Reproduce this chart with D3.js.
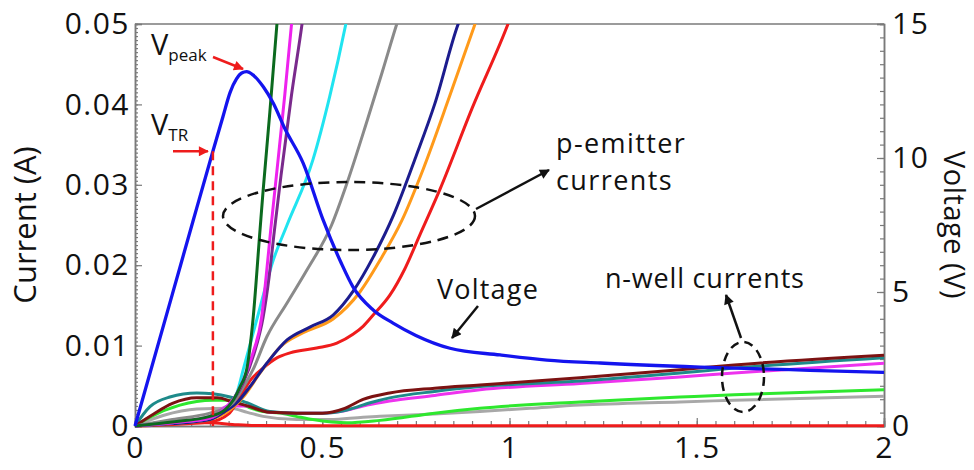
<!DOCTYPE html>
<html>
<head>
<meta charset="utf-8">
<script src="https://cdn.jsdelivr.net/npm/d3@7"></script>
<style>
  html, body { margin: 0; padding: 0; background: #ffffff; }
  svg { display: block; }
  text { font-family: "Open Sans", "DejaVu Sans", sans-serif; fill: #111; }
</style>
</head>
<body>
<svg id="chart" width="974" height="470"></svg>
<script>
// ---- data: time (ns) vs current (A) and voltage (V) ----
const xTicks = [0, 0.5, 1, 1.5, 2];
const currentTicks = [0, 0.01, 0.02, 0.03, 0.04, 0.05];
const voltageTicks = [0, 5, 10, 15];

// anode voltage
const voltageT = [0, 0.1, 0.155, 0.208, 0.235, 0.254, 0.271, 0.285, 0.298, 0.315, 0.343, 0.369, 0.40, 0.449, 0.502, 0.55, 0.582, 0.636, 0.689, 0.75, 0.841, 0.975, 1.10, 1.242, 1.509, 1.75, 2.0];
const voltageV = [0, 4.93, 7.65, 10.25, 11.55, 12.45, 12.95, 13.17, 13.22, 13.1, 12.65, 12.05, 11.1, 9.81, 7.7, 6.1, 5.19, 4.33, 3.84, 3.38, 2.9, 2.65, 2.46, 2.35, 2.2, 2.1, 2.0];

// triggering point
const vTR = { t: 0.208, v: 10.25 };

// p-emitter currents  [t, I]
const pDarkGreen = [[0,0],[0.1,0.0005],[0.2,0.0012],[0.24,0.002],[0.262,0.0032],[0.28,0.0048],[0.299,0.0072],[0.315,0.0132],[0.334,0.0245],[0.342,0.0292],[0.36,0.039],[0.379,0.05],[0.39,0.056]];
const pMagenta   = [[0,0],[0.1,0.0004],[0.2,0.001],[0.24,0.0022],[0.265,0.0035],[0.29,0.0058],[0.315,0.0091],[0.338,0.0135],[0.35,0.0185],[0.362,0.0242],[0.38,0.0322],[0.40,0.0412],[0.418,0.05],[0.43,0.055]];
const pPurple    = [[0,0],[0.1,0.0004],[0.2,0.001],[0.24,0.0021],[0.265,0.0034],[0.29,0.0055],[0.318,0.009],[0.342,0.0135],[0.358,0.0185],[0.372,0.0242],[0.39,0.0312],[0.418,0.0412],[0.446,0.05],[0.46,0.055]];
const pCyan      = [[0,0],[0.1,0.0004],[0.2,0.001],[0.24,0.0022],[0.272,0.0041],[0.289,0.007],[0.325,0.0132],[0.369,0.0206],[0.406,0.025],[0.475,0.0331],[0.52,0.041],[0.563,0.05],[0.58,0.054]];
const pGray      = [[0,0],[0.1,0.0008],[0.2,0.0016],[0.24,0.0022],[0.26,0.0028],[0.28,0.0041],[0.315,0.007],[0.352,0.0111],[0.406,0.0153],[0.459,0.0194],[0.525,0.025],[0.566,0.0302],[0.62,0.038],[0.66,0.044],[0.699,0.05],[0.72,0.053]];
const pNavy      = [[0,0],[0.1,0.0003],[0.2,0.0008],[0.24,0.0018],[0.272,0.0029],[0.307,0.0049],[0.352,0.0078],[0.406,0.0107],[0.467,0.0123],[0.529,0.0138],[0.583,0.0168],[0.636,0.021],[0.69,0.0262],[0.75,0.0335],[0.80,0.040],[0.863,0.05],[0.88,0.052]];
const pOrange    = [[0,0],[0.1,0.0003],[0.2,0.0008],[0.254,0.002],[0.289,0.0036],[0.334,0.0066],[0.387,0.0098],[0.449,0.0116],[0.529,0.0133],[0.601,0.0167],[0.654,0.0206],[0.713,0.0256],[0.77,0.032],[0.84,0.041],[0.908,0.05],[0.93,0.053]];
const pRed       = [[0,0],[0.1,0.0002],[0.2,0.0005],[0.25,0.0015],[0.28,0.0036],[0.31,0.0058],[0.342,0.0072],[0.38,0.0085],[0.414,0.0091],[0.485,0.0097],[0.539,0.0103],[0.582,0.0114],[0.609,0.0124],[0.636,0.0138],[0.681,0.0163],[0.72,0.0195],[0.761,0.0238],[0.814,0.0294],[0.90,0.0395],[0.996,0.05],[1.02,0.053]];

// n-well currents  [t, I]
const nRed     = [[0,0],[0.05,0.0003],[0.12,0.0004],[0.2,0.0004],[0.26,0.0002],[0.32,0.00005],[0.5,0.00003],[2.0,0.00003]];
const nGray    = [[0,0],[0.075,0.0013],[0.165,0.0021],[0.254,0.0022],[0.3,0.0017],[0.342,0.0012],[0.432,0.0008],[0.521,0.0008],[0.609,0.0011],[0.654,0.0012],[0.8,0.0015],[0.921,0.0018],[1.055,0.0022],[1.188,0.0026],[1.455,0.003],[1.6,0.0032],[2.0,0.0037]];
const nGreen   = [[0,0],[0.04,0.0011],[0.12,0.0026],[0.208,0.0032],[0.254,0.0032],[0.299,0.0024],[0.342,0.0018],[0.387,0.0016],[0.43,0.0012],[0.475,0.0008],[0.566,0.0004],[0.654,0.0007],[0.8,0.0016],[0.921,0.0022],[1.188,0.003],[1.455,0.0036],[1.6,0.0039],[2.0,0.0045]];
const nMagenta = [[0,0],[0.1,0.0005],[0.2,0.0012],[0.25,0.0025],[0.3,0.0025],[0.36,0.0017],[0.43,0.0016],[0.5,0.0016],[0.56,0.0019],[0.62,0.0026],[0.68,0.0031],[0.8,0.0038],[0.921,0.0045],[1.188,0.0053],[1.455,0.0061],[1.6,0.0066],[2.0,0.0078]];
const nTeal    = [[0,0],[0.04,0.0024],[0.093,0.0036],[0.165,0.0041],[0.208,0.004],[0.254,0.0036],[0.299,0.0029],[0.36,0.0018],[0.432,0.0016],[0.503,0.0016],[0.566,0.002],[0.628,0.0029],[0.68,0.0035],[0.8,0.0043],[0.921,0.0049],[1.188,0.0056],[1.455,0.0066],[1.6,0.0072],[2.0,0.0085]];
const nMaroon  = [[0,0],[0.05,0.0015],[0.1,0.0028],[0.165,0.0035],[0.22,0.0035],[0.26,0.003],[0.3,0.0025],[0.36,0.0017],[0.43,0.0016],[0.5,0.0016],[0.56,0.0022],[0.609,0.0033],[0.68,0.0041],[0.8,0.0047],[0.921,0.0051],[1.188,0.006],[1.455,0.007],[1.6,0.0076],[2.0,0.0088]];

const nWellSeries = [
  { data: nRed, color: "#ee1c1c" },
  { data: nGray, color: "#a8a8a8" },
  { data: nGreen, color: "#2ee82e" },
  { data: nMagenta, color: "#ee33ee" },
  { data: nTeal, color: "#1e8a8a" },
  { data: nMaroon, color: "#7c1212" }
];
const pEmitterSeries = [
  { data: pRed, color: "#ef1c1c" },
  { data: pOrange, color: "#ff9a1a" },
  { data: pNavy, color: "#1c1c8e" },
  { data: pGray, color: "#8a8a8a" },
  { data: pCyan, color: "#20e4f0" },
  { data: pPurple, color: "#7a2a8c" },
  { data: pMagenta, color: "#ee22ee" },
  { data: pDarkGreen, color: "#0b6a1e" }
];

// ---- layout ----
const svg = d3.select("#chart");
const x = d3.scaleLinear().domain([0, 2]).range([135, 884]);
const yI = d3.scaleLinear().domain([0, 0.05]).range([426, 24]);
const yV = d3.scaleLinear().domain([0, 15]).range([426, 24]);
const axisColor = "#7a7a7a";
const fontTick = 30;

const defs = svg.append("defs");
defs.append("clipPath").attr("id", "plotClip")
  .append("rect").attr("x", x(0) - 2).attr("y", yI(0.05)).attr("width", x(2) - x(0) + 2).attr("height", yI(0) - yI(0.05) + 4);

function marker(id, color, w, h) {
  defs.append("marker").attr("id", id)
    .attr("viewBox", "0 0 10 10").attr("refX", 9).attr("refY", 5)
    .attr("markerUnits", "userSpaceOnUse")
    .attr("markerWidth", w).attr("markerHeight", h)
    .attr("orient", "auto")
    .append("path").attr("d", "M0,0 L10,5 L0,10 Z").attr("fill", color);
}
marker("headBlack", "#111", 12, 10);
marker("headRed", "#ee1c1c", 12, 10);

// ---- axes ----
function styleAxis(g) {
  g.select(".domain").attr("stroke", axisColor).attr("stroke-width", 1.5);
  g.selectAll(".tick line").attr("stroke", axisColor).attr("stroke-width", 1.2);
  g.selectAll("text").attr("font-size", fontTick).attr("fill", "#111")
    .attr("letter-spacing", 1.5)
    .attr("font-family", '"Open Sans", sans-serif');
}

// minor ticks
svg.append("g").attr("transform", `translate(0,${yI(0)})`)
  .call(d3.axisBottom(x).tickValues(d3.range(0, 2.0001, 0.05)).tickSize(-5).tickFormat(""))
  .call(styleAxis);
svg.append("g").attr("transform", `translate(${x(0)},0)`)
  .call(d3.axisLeft(yI).tickValues(d3.range(0, 0.05001, 0.0005)).tickSize(-3).tickFormat(""))
  .call(styleAxis);
svg.append("g").attr("transform", `translate(${x(2)},0)`)
  .call(d3.axisRight(yV).tickValues(d3.range(0, 15.001, 0.5)).tickSize(-4).tickFormat(""))
  .call(styleAxis);

// major ticks with labels
svg.append("g").attr("transform", `translate(0,${yI(0)})`)
  .call(d3.axisBottom(x).tickValues(xTicks).tickSize(-8).tickPadding(11).tickFormat(d3.format("")))
  .call(styleAxis);
svg.append("g").attr("transform", `translate(${x(0)},0)`)
  .call(d3.axisLeft(yI).tickValues(currentTicks).tickSize(-7).tickPadding(5).tickFormat(d => d === 0 ? "0" : d3.format(".2f")(d)))
  .call(styleAxis);
svg.append("g").attr("transform", `translate(${x(2)},0)`)
  .call(d3.axisRight(yV).tickValues(voltageTicks).tickSize(-7).tickPadding(8).tickFormat(d3.format("")))
  .call(styleAxis);

// top frame
svg.append("line").attr("x1", x(0)).attr("x2", x(2)).attr("y1", yI(0.05)).attr("y2", yI(0.05))
  .attr("stroke", axisColor).attr("stroke-width", 1.5);

// axis titles
svg.append("text").attr("transform", `translate(36,${(yI(0) + yI(0.05)) / 2}) rotate(-90)`)
  .attr("text-anchor", "middle").attr("font-size", 31).text("Current (A)");
svg.append("text").attr("transform", `translate(944,${(yI(0) + yI(0.05)) / 2}) rotate(90)`)
  .attr("text-anchor", "middle").attr("font-size", 29).attr("letter-spacing", 0.5).text("Voltage (V)");

// ---- curves ----
const plot = svg.append("g").attr("clip-path", "url(#plotClip)");
const lineI = d3.line().x(d => x(d[0])).y(d => yI(d[1])).curve(d3.curveMonotoneX);
const lineV = d3.line().x((d, i) => x(voltageT[i])).y(d => yV(d)).curve(d3.curveMonotoneX);

plot.selectAll("path.nwell").data(nWellSeries).join("path").attr("class", "nwell")
  .attr("d", s => lineI(s.data)).attr("fill", "none").attr("stroke", s => s.color)
  .attr("stroke-width", 3).attr("stroke-linejoin", "round");
plot.selectAll("path.pemit").data(pEmitterSeries).join("path").attr("class", "pemit")
  .attr("d", s => lineI(s.data)).attr("fill", "none").attr("stroke", s => s.color)
  .attr("stroke-width", 3).attr("stroke-linejoin", "round");
plot.append("path").attr("d", lineV(voltageV)).attr("fill", "none")
  .attr("stroke", "#1414ee").attr("stroke-width", 3.3).attr("stroke-linejoin", "round");

// V_TR marker line
svg.append("line").attr("x1", x(vTR.t)).attr("x2", x(vTR.t)).attr("y1", yV(vTR.v)).attr("y2", yV(0))
  .attr("stroke", "#ee1c1c").attr("stroke-width", 2.5).attr("stroke-dasharray", "9,6");

// ---- annotations ----
const ann = svg.append("g");
// dashed groupings
ann.append("ellipse").attr("cx", 349).attr("cy", 216).attr("rx", 126).attr("ry", 34)
  .attr("fill", "none").attr("stroke", "#111").attr("stroke-width", 2.5).attr("stroke-dasharray", "11,7");
ann.append("ellipse").attr("cx", 743).attr("cy", 377).attr("rx", 21).attr("ry", 35)
  .attr("fill", "none").attr("stroke", "#111").attr("stroke-width", 2.5).attr("stroke-dasharray", "9,6");

// arrows
function arrow(x1, y1, x2, y2, color, head) {
  ann.append("line").attr("x1", x1).attr("y1", y1).attr("x2", x2).attr("y2", y2)
    .attr("stroke", color).attr("stroke-width", 2.5).attr("marker-end", `url(#${head})`);
}
arrow(476, 209, 549, 170, "#111", "headBlack");
arrow(478, 306, 452, 338, "#111", "headBlack");
arrow(741, 338, 726, 295, "#111", "headBlack");
arrow(213, 57, 243, 69, "#ee1c1c", "headRed");
arrow(173, yV(vTR.v), x(vTR.t) - 5, yV(vTR.v), "#ee1c1c", "headRed");

// labels
ann.append("text").attr("x", 556).attr("y", 153).attr("font-size", 27).attr("letter-spacing", 1.4).text("p-emitter");
ann.append("text").attr("x", 556).attr("y", 190).attr("font-size", 27).attr("letter-spacing", 1.4).text("currents");
ann.append("text").attr("x", 437).attr("y", 299).attr("font-size", 27).attr("letter-spacing", 1.2).text("Voltage");
ann.append("text").attr("x", 605).attr("y", 288).attr("font-size", 27).attr("letter-spacing", 0.8).text("n-well currents");

const vp = ann.append("text").attr("x", 151).attr("y", 55).attr("font-size", 29);
vp.append("tspan").text("V");
vp.append("tspan").attr("font-size", 17).attr("dy", 6).text("peak");
const vt = ann.append("text").attr("x", 151).attr("y", 135).attr("font-size", 29);
vt.append("tspan").text("V");
vt.append("tspan").attr("font-size", 17).attr("dy", 6).text("TR");
</script>
</body>
</html>
